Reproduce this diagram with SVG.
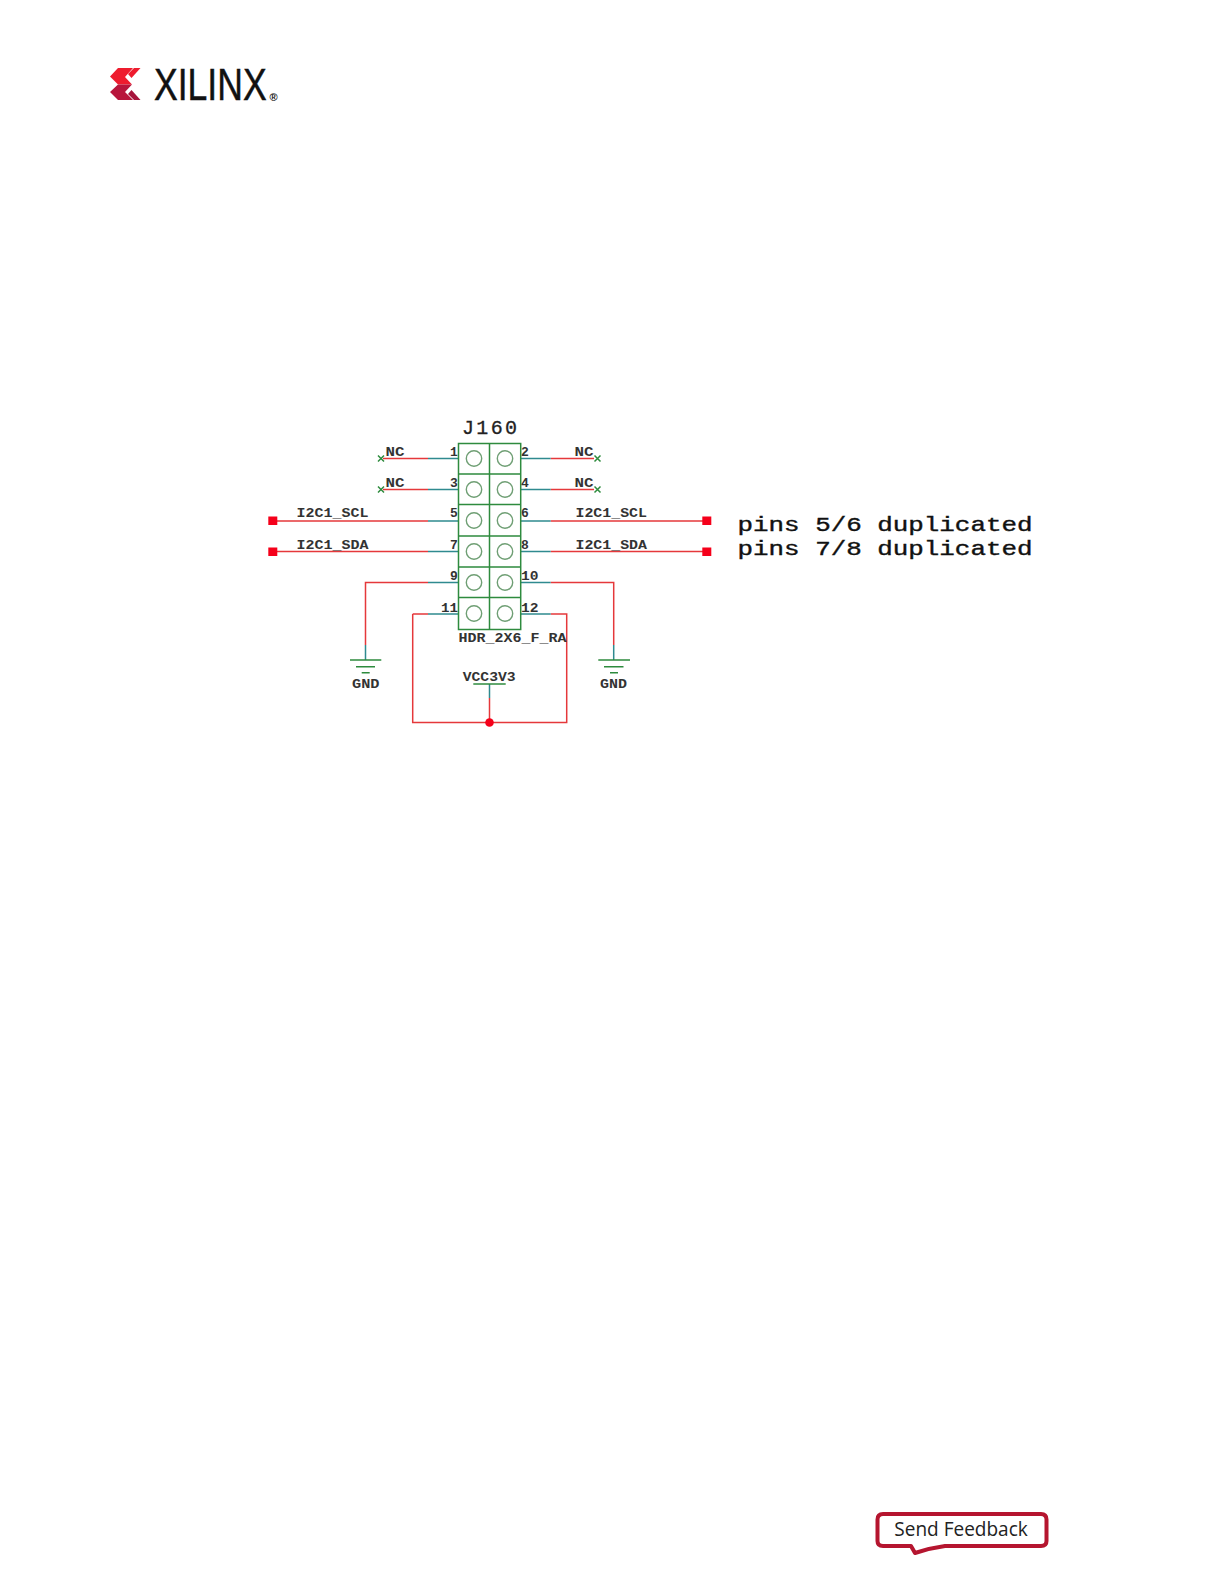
<svg xmlns="http://www.w3.org/2000/svg" width="1224" height="1584" viewBox="0 0 1224 1584">
<style>
.r{stroke:#e5383b;stroke-width:1.5;fill:none}
.t{stroke:#2f8a8f;stroke-width:1.5;fill:none}
.g{stroke:#2e8b3e;stroke-width:1.5;fill:none}
.c{stroke:#6f9f74;stroke-width:1.4;fill:#fff}
.l{font-family:"Liberation Mono",monospace;font-weight:bold;font-size:13px;fill:#333}
.p{font-family:"Liberation Mono",monospace;font-size:21px;fill:#111;stroke:#111;stroke-width:.4}
.s{fill:#f5001a}
</style>
<rect width="1224" height="1584" fill="#fff"/>
<g id="logo">
<path fill="#ee1c2e" d="M118 68H133L125 77L132 84.500H118L110 76.500Z"/>
<path fill="#ee1c2e" d="M134 68H140.500L131.500 78L128 74Z"/>
<path fill="#b8163c" d="M118 84.500H132L125 92L133 100H118L110 92Z"/>
<path fill="#a6143c" d="M131.500 90L140.500 100H134L128 94Z"/>
<text transform="translate(154 99.500) scale(.79 1)" font-family="'Liberation Sans',sans-serif" font-size="45" fill="#111" stroke="#111" stroke-width=".5">XILINX</text>
<text x="269.500" y="100.500" font-family="'Liberation Sans',sans-serif" font-size="11" font-weight="bold" fill="#111">®</text>
</g>
<g id="connectors">
<path class="r" d="M383 458.500H428M383 489.500H428M273 521H428M273 551.500H428M365.500 645V582.500H428M412.700 614H428M412.700 614V722.500H566.700V614H550.700"/>
<path class="t" d="M428 458.500H458.500M428 489.500H458.500M428 521H458.500M428 551.500H458.500M428 582.500H458.500M428 614H458.500M365.500 645V660"/>
<path class="r" d="M550.700 458.500H594M550.700 489.500H594M550.700 521H707M550.700 551.500H707M550.700 582.500H613.700V645"/>
<path class="t" d="M520.700 458.500H550.700M520.700 489.500H550.700M520.700 521H550.700M520.700 551.500H550.700M520.700 582.500H550.700M520.700 614H550.700M613.700 645V660"/>
<path class="t" d="M489.500 684V698"/>
<path class="r" d="M489.500 698V722.500"/>
<circle cx="489.500" cy="722.500" r="4.300" fill="#f5001a"/>
</g>
<g id="J160">
<rect class="g" x="458.500" y="443.500" width="62.200" height="186" fill="#fff"/>
<path class="g" d="M489.500 443.500V629.500M458.500 474H520.700M458.500 504.500H520.700M458.500 536H520.700M458.500 567H520.700M458.500 597.500H520.700"/>
<g id="holes">
<circle class="c" cx="474" cy="458.500" r="7.700"/><circle class="c" cx="505" cy="458.500" r="7.700"/>
<circle class="c" cx="474" cy="489.500" r="7.700"/><circle class="c" cx="505" cy="489.500" r="7.700"/>
<circle class="c" cx="474" cy="520.500" r="7.700"/><circle class="c" cx="505" cy="520.500" r="7.700"/>
<circle class="c" cx="474" cy="551.500" r="7.700"/><circle class="c" cx="505" cy="551.500" r="7.700"/>
<circle class="c" cx="474" cy="582.500" r="7.700"/><circle class="c" cx="505" cy="582.500" r="7.700"/>
<circle class="c" cx="474" cy="613.500" r="7.700"/><circle class="c" cx="505" cy="613.500" r="7.700"/>
</g>
<text x="462" y="434" font-family="'Liberation Mono',monospace" font-size="20" fill="#222" stroke="#222" stroke-width=".3" textLength="55" lengthAdjust="spacing">J160</text>
<text class="l" x="458.500" y="642" textLength="108" lengthAdjust="spacingAndGlyphs">HDR_2X6_F_RA</text>
<text class="l" x="450" y="455.500">1</text><text class="l" x="450" y="486.500">3</text><text class="l" x="450" y="517">5</text><text class="l" x="450" y="548.500">7</text><text class="l" x="450" y="579.500">9</text>
<text class="l" x="441" y="611.500" textLength="17" lengthAdjust="spacingAndGlyphs">11</text>
<text class="l" x="521" y="455.500">2</text><text class="l" x="521" y="486.500">4</text><text class="l" x="521" y="517">6</text><text class="l" x="521" y="548.500">8</text>
<text class="l" x="521" y="579.500" textLength="17.500" lengthAdjust="spacingAndGlyphs">10</text>
<text class="l" x="521" y="611.500" textLength="17.500" lengthAdjust="spacingAndGlyphs">12</text>
</g>
<g id="nc-left-1"><path class="g" d="M378 455.500l6 6M384 455.500l-6 6"/><text class="l" x="385.500" y="455.500" textLength="19" lengthAdjust="spacingAndGlyphs">NC</text></g>
<g id="nc-left-3"><path class="g" d="M378 486.500l6 6M384 486.500l-6 6"/><text class="l" x="385.500" y="486.500" textLength="19" lengthAdjust="spacingAndGlyphs">NC</text></g>
<g id="nc-right-2"><path class="g" d="M594.500 455.500l6 6M600.500 455.500l-6 6"/><text class="l" x="574.500" y="455.500" textLength="19" lengthAdjust="spacingAndGlyphs">NC</text></g>
<g id="nc-right-4"><path class="g" d="M594.500 486.500l6 6M600.500 486.500l-6 6"/><text class="l" x="574.500" y="486.500" textLength="19" lengthAdjust="spacingAndGlyphs">NC</text></g>
<g id="scl-left"><rect class="s" x="268.300" y="516.500" width="9" height="8.500"/><text class="l" x="296.500" y="517" textLength="72" lengthAdjust="spacingAndGlyphs">I2C1_SCL</text></g>
<g id="sda-left"><rect class="s" x="268.300" y="547.500" width="9" height="8.500"/><text class="l" x="296.500" y="548.500" textLength="72" lengthAdjust="spacingAndGlyphs">I2C1_SDA</text></g>
<g id="scl-right"><rect class="s" x="702.300" y="516.500" width="9" height="8.500"/><text class="l" x="575.500" y="517" textLength="71.500" lengthAdjust="spacingAndGlyphs">I2C1_SCL</text></g>
<g id="sda-right"><rect class="s" x="702.300" y="547.500" width="9" height="8.500"/><text class="l" x="575.500" y="548.500" textLength="71.500" lengthAdjust="spacingAndGlyphs">I2C1_SDA</text></g>
<g id="gnd-left"><path class="g" d="M350 660H381.300M356 666.700H375M361.700 672.700H369.700"/><text class="l" x="352" y="688" textLength="27.500" lengthAdjust="spacingAndGlyphs">GND</text></g>
<g id="gnd-right"><path class="g" d="M598.300 660H630M604 666.700H623.500M610 672.700H618"/><text class="l" x="600" y="688" textLength="27" lengthAdjust="spacingAndGlyphs">GND</text></g>
<g id="vcc"><path class="g" d="M473.300 684H505.700"/><text class="l" x="462.700" y="680.500" textLength="53" lengthAdjust="spacingAndGlyphs">VCC3V3</text></g>
<g id="note">
<text class="p" x="737.500" y="530.500" textLength="295" lengthAdjust="spacingAndGlyphs">pins 5/6 duplicated</text>
<text class="p" x="737.500" y="555" textLength="295" lengthAdjust="spacingAndGlyphs">pins 7/8 duplicated</text>
</g>
<g id="feedback">
<path d="M883 1514H1041Q1046.500 1514 1046.500 1519.500V1541Q1046.500 1546 1041 1546H945Q930 1548 915 1553L911 1546H883Q877.500 1546 877.500 1541V1519.500Q877.500 1514 883 1514Z" fill="#fff" stroke="#b5152f" stroke-width="4" stroke-linejoin="round"/>
<text x="894.300" y="1535.700" font-family="'Open Sans',sans-serif" font-size="19.500" fill="#222" textLength="133.500" lengthAdjust="spacingAndGlyphs">Send Feedback</text>
</g>
</svg>
